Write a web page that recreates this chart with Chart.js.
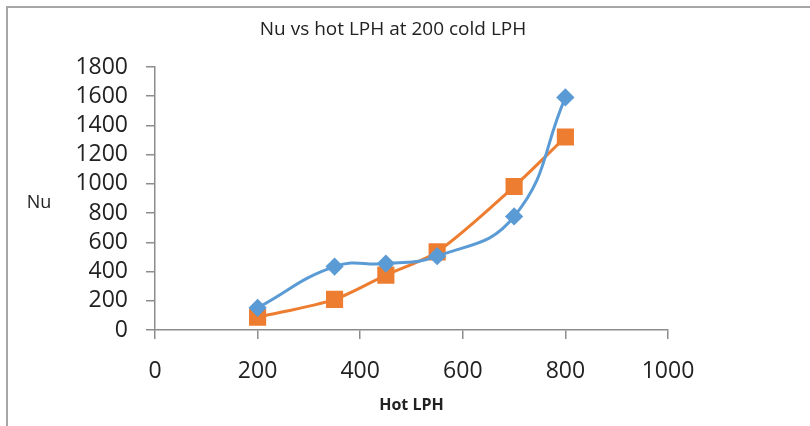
<!DOCTYPE html>
<html>
<head>
<meta charset="utf-8">
<script src="https://cdn.jsdelivr.net/npm/chart.js@4.4.0/dist/chart.umd.min.js"></script>
<style>
  html, body { margin: 0; padding: 0; background: #fff; }
  #wrap { position: relative; width: 810px; height: 426px; }
  #frame { position: absolute; left: 6px; top: 6px; right: 0; bottom: 0;
           border-top: 2px solid #a6a6a6; border-left: 2px solid #a6a6a6; }
  canvas { position: absolute; left: 0; top: 0; }
</style>
</head>
<body>
<div id="wrap">
  <div id="frame"></div>
  <canvas id="chart" width="810" height="426"></canvas>
</div>
<script>
// Data
const hotLph = [200, 350, 450, 550, 700, 800];
const nuBlue = [152, 434, 455, 505, 777, 1592];
const nuOrange = [87, 210, 376, 535, 982, 1321];

const xTicks = [0, 200, 400, 600, 800, 1000];
const yTicks = [0, 200, 400, 600, 800, 1000, 1200, 1400, 1600, 1800];

const chartTitle = 'Nu vs hot LPH at 200 cold LPH';
const xTitle = 'Hot LPH';
const yTitle = 'Nu';

const FONT = "'Open Sans', 'Liberation Sans', sans-serif";
const AXIS_GREY = '#8c8c8c';

function toPoints(xs, ys) {
    return xs.map((x, i) => ({ x: x, y: ys[i] }));
}

// title and the horizontal "Nu" label are drawn at fixed spots, like the Excel original
const labelsPlugin = {
    id: 'fixedLabels',
    afterDraw(chart) {
        const ctx = chart.ctx;
        ctx.save();
        ctx.fillStyle = '#222';
        ctx.textAlign = 'center';
        ctx.textBaseline = 'middle';
        ctx.font = '19px ' + FONT;
        ctx.fillText(chartTitle, 393, 30);
        ctx.font = '18px ' + FONT;
        ctx.fillText(yTitle, 39, 203);
        ctx.restore();
    }
};

new Chart(document.getElementById('chart'), {
    type: 'scatter',
    data: {
        datasets: [{
            label: 'Series1',
            data: toPoints(hotLph, nuBlue),
            showLine: true,
            borderColor: '#5b9bd5',
            backgroundColor: '#5b9bd5',
            borderWidth: 3,
            tension: 0.45,
            pointStyle: 'rectRot',
            pointRadius: 7,
            pointHoverRadius: 7
        }, {
            label: 'Series2',
            data: toPoints(hotLph, nuOrange),
            showLine: true,
            borderColor: '#ed7d31',
            backgroundColor: '#ed7d31',
            borderWidth: 3,
            tension: 0.3,
            pointStyle: 'rect',
            pointRadius: 10,
            pointHoverRadius: 10
        }]
    },
    options: {
        responsive: false,
        animation: false,
        layout: { padding: { left: 0, right: 142, top: 67, bottom: 0 } },
        plugins: {
            legend: { display: false },
            tooltip: { enabled: false },
            title: { display: false }
        },
        scales: {
            x: {
                type: 'linear',
                min: xTicks[0],
                max: xTicks[xTicks.length - 1],
                afterBuildTicks: s => { s.ticks = xTicks.map(v => ({ value: v })); },
                afterFit: s => { s.height = 96; },
                grid: { drawOnChartArea: false, drawTicks: true, tickLength: 9, color: AXIS_GREY, lineWidth: 1.5 },
                border: { display: true, color: AXIS_GREY, width: 1.5 },
                ticks: {
                    padding: 19, color: '#222', autoSkip: false, maxRotation: 0,
                    font: { family: FONT, size: 23 },
                    callback: v => String(v)
                },
                title: {
                    display: true,
                    text: xTitle,
                    color: '#222',
                    font: { family: FONT, size: 16, weight: 'bold' },
                    padding: { top: 4, bottom: 11 }
                }
            },
            y: {
                type: 'linear',
                min: yTicks[0],
                max: yTicks[yTicks.length - 1],
                afterBuildTicks: s => { s.ticks = yTicks.map(v => ({ value: v })); },
                afterFit: s => { s.width = 155; },
                grid: { drawOnChartArea: false, drawTicks: true, tickLength: 9, color: AXIS_GREY, lineWidth: 1.5 },
                border: { display: true, color: AXIS_GREY, width: 1.5 },
                ticks: {
                    padding: 18, color: '#222', autoSkip: false,
                    font: { family: FONT, size: 23 },
                    callback: v => String(v)
                }
            }
        }
    },
    plugins: [labelsPlugin]
});
</script>
</body>
</html>
